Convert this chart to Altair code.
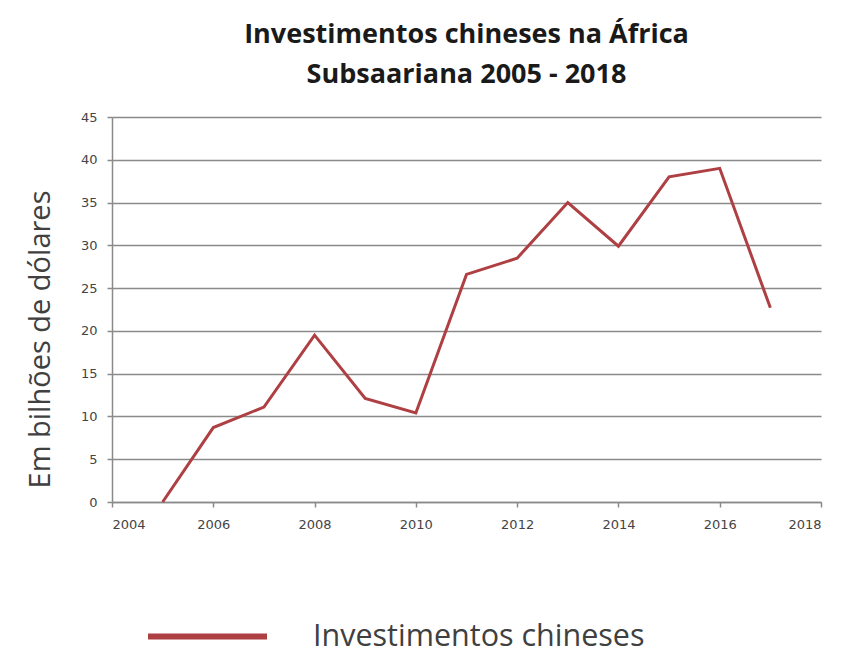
import altair as alt
import pandas as pd

anos = [2005, 2006, 2007, 2008, 2009, 2010, 2011, 2012, 2013, 2014, 2015, 2016, 2017]
valores = [0.0, 8.7, 11.1, 19.5, 12.1, 10.4, 26.6, 28.5, 35.0, 29.9, 38.0, 39.0, 22.7]
serie = ["Investimentos chineses"] * len(anos)

x_ticks = [2004, 2006, 2008, 2010, 2012, 2014, 2016, 2018]
y_ticks = [0, 5, 10, 15, 20, 25, 30, 35, 40, 45]

df = pd.DataFrame({"Ano": anos, "Valor": valores, "Serie": serie})

LINE = "#AE3F42"

chart = (
    alt.Chart(df, title=alt.Title(
        ["Investimentos chineses na África", "Subsaariana 2005 - 2018"],
        font="Open Sans", fontSize=27, fontWeight="bold", color="#1a1a1a",
        anchor="middle", offset=22, lineHeight=40,
    ))
    .mark_line(strokeWidth=3)
    .encode(
        x=alt.X("Ano:Q",
                scale=alt.Scale(domain=[2004, 2018], nice=False, zero=False),
                axis=alt.Axis(values=x_ticks, format="d", grid=False, title=None,
                              labelFont="DejaVu Sans", labelFontSize=13, labelColor="#444444",
                              labelPadding=11, tickSize=5, tickColor="#8a8a8a",
                              domainColor="#8a8a8a", domainWidth=1.5, tickWidth=1.5)),
        y=alt.Y("Valor:Q",
                scale=alt.Scale(domain=[0, 45], nice=False),
                axis=alt.Axis(values=y_ticks, grid=True, gridColor="#8a8a8a", gridWidth=1.5,
                              title="Em bilhões de dólares", titleFont="Open Sans", titleFontSize=29,
                              titleFontWeight="normal", titleColor="#404040",
                              titleX=-72, titleY=222, titleAngle=-90, titleAlign="center",
                              titleBaseline="middle",
                              labelFont="DejaVu Sans", labelFontSize=13, labelColor="#444444",
                              labelPadding=10, tickSize=5, tickColor="#8a8a8a", tickWidth=1.5,
                              domainColor="#8a8a8a", domainWidth=1.5)),
        color=alt.Color("Serie:N", scale=alt.Scale(range=[LINE]),
                        legend=alt.Legend(orient="none", legendX=33, legendY=457, title=None,
                                          symbolType="stroke", symbolSize=14161,
                                          symbolStrokeWidth=6, labelFont="Open Sans",
                                          labelFontSize=30.5, labelColor="#404040",
                                          labelOffset=43, labelLimit=0, padding=0)),
    )
    .properties(width=709, height=385, autosize="none",
                padding={"left": 112, "top": 117, "right": 20, "bottom": 151},
                background="white")
    .configure_view(stroke=None)
)

chart.save("out.html", embed_options={"renderer": "svg", "actions": False})
